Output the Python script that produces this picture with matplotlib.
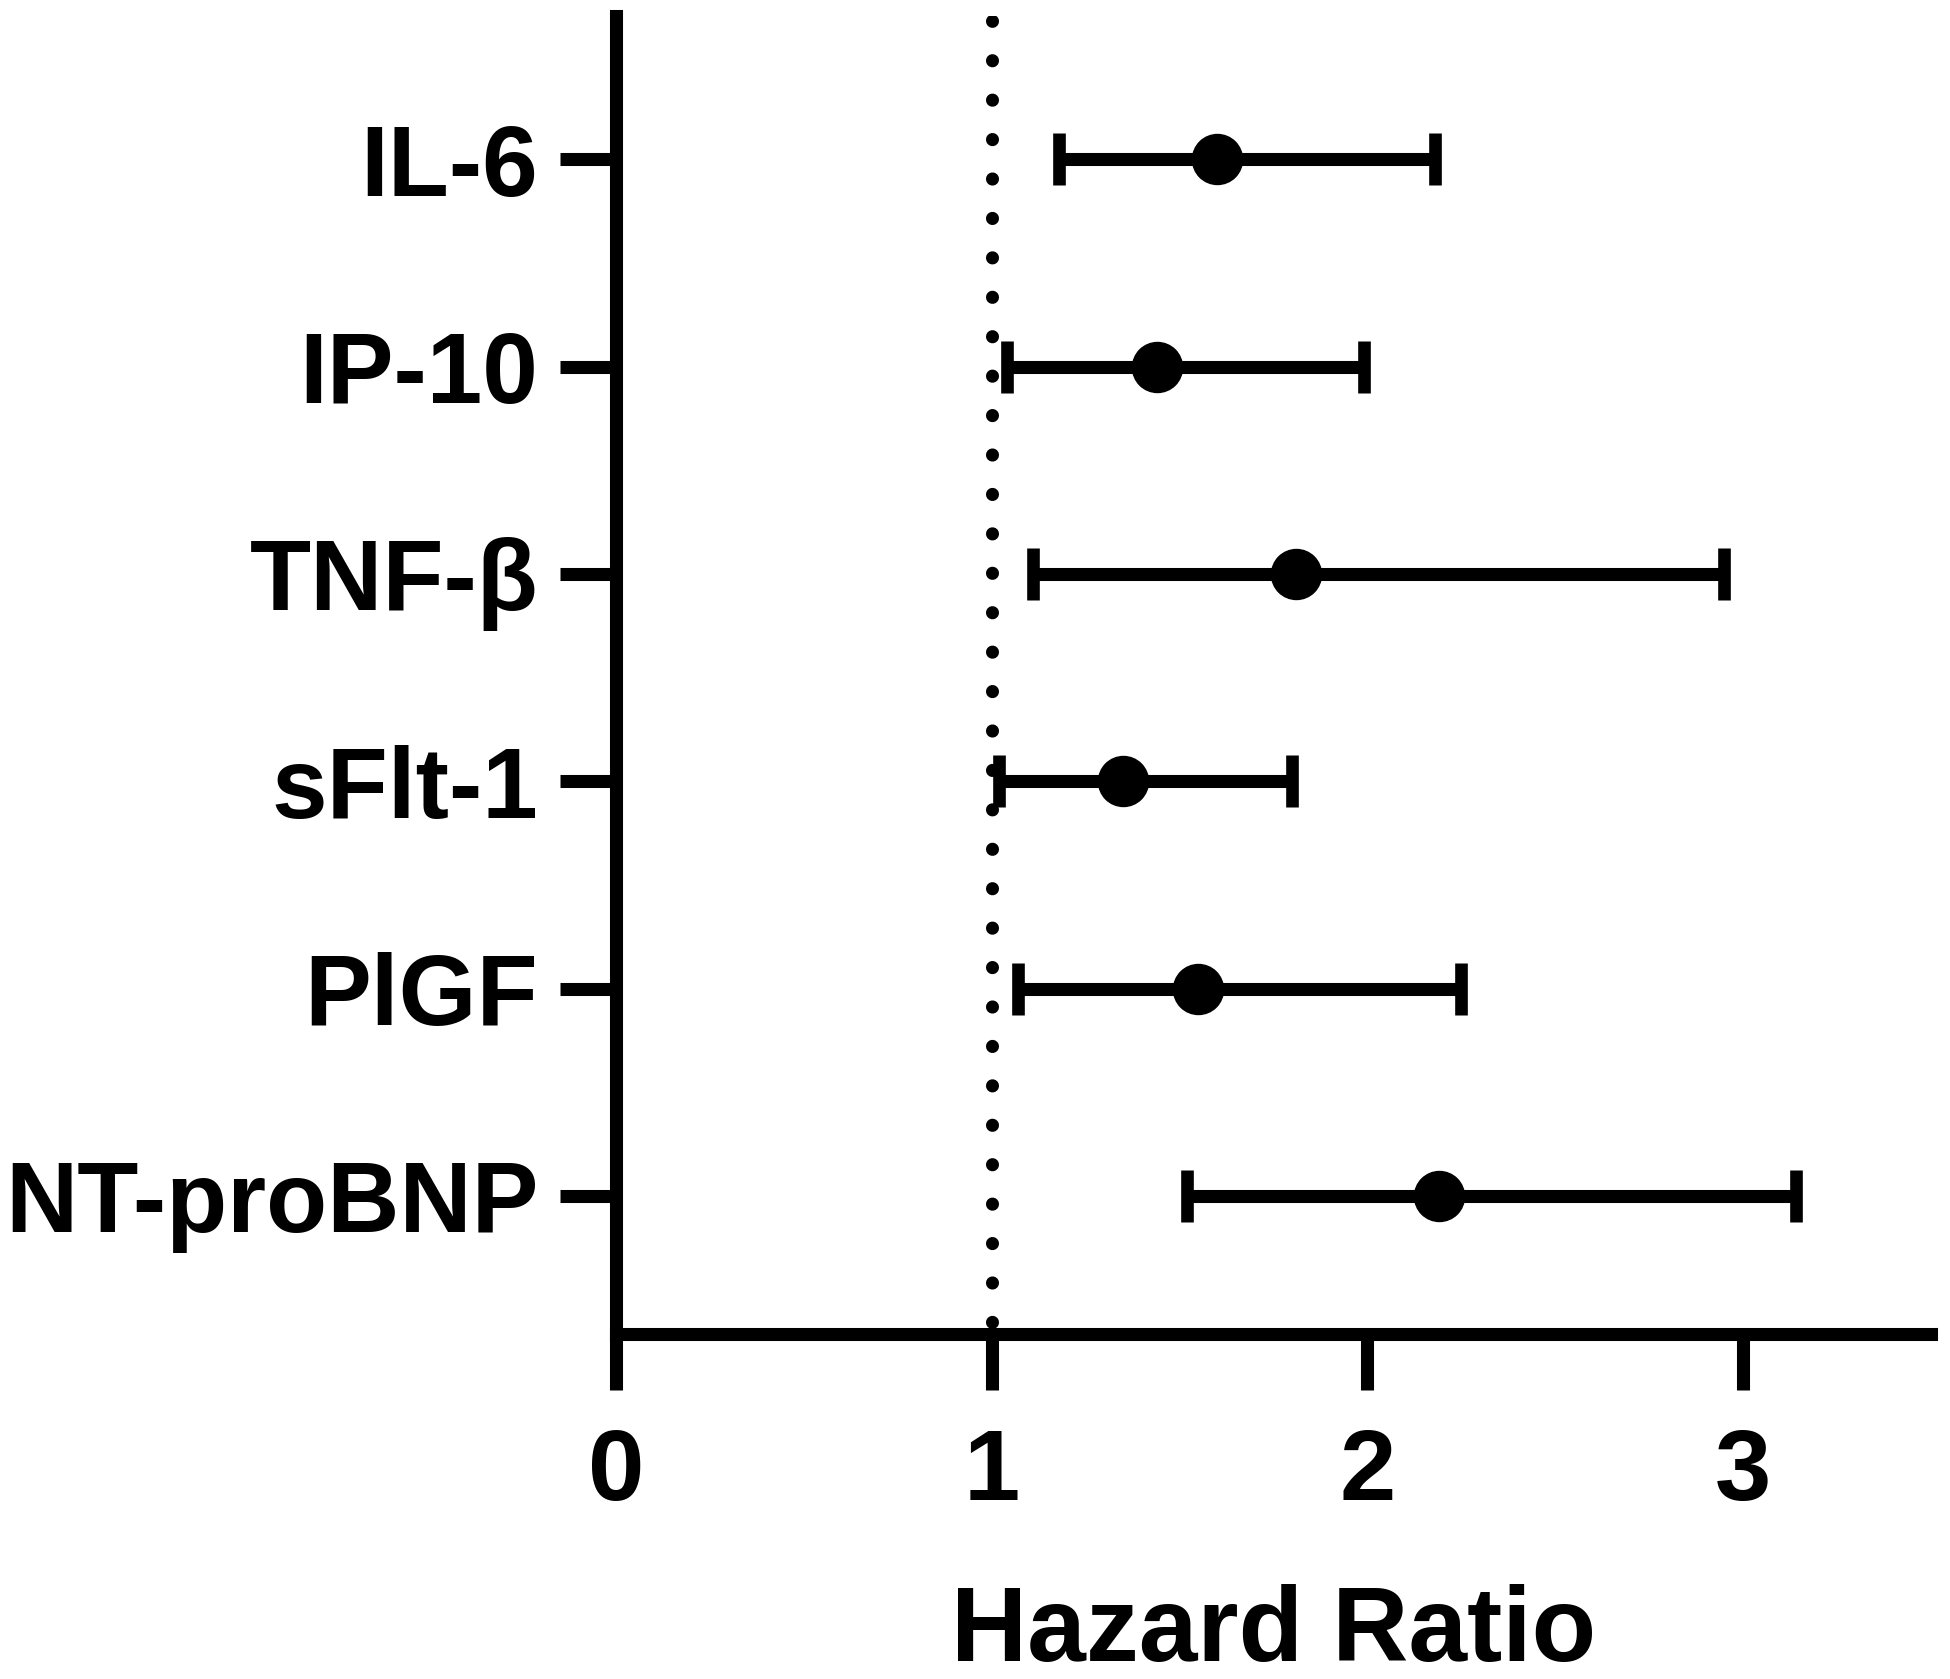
import matplotlib
matplotlib.use("Agg")
import matplotlib.pyplot as plt

plt.rcParams["font.family"] = ["Liberation Sans", "DejaVu Sans"]
plt.rcParams["font.weight"] = "bold"

# forest plot values (top to bottom)
markers = ["IL-6", "IP-10", "TNF-β", "sFlt-1", "PlGF", "NT-proBNP"]
hazard_ratio = [1.60, 1.44, 1.81, 1.35, 1.55, 2.19]
ci_low = [1.18, 1.04, 1.11, 1.02, 1.07, 1.52]
ci_high = [2.18, 1.99, 2.95, 1.80, 2.25, 3.14]
x_ticks = [0, 1, 2, 3]

LW = 9.4  # pt, all strokes are the same thickness in the original


def main():
    fig = plt.figure(figsize=(19.5, 16.79), dpi=100)
    ax = fig.add_axes([0.3159, 0.2055, 0.6744, 0.7850])

    ypos = list(range(len(markers)))
    xerr = [[h - lo for h, lo in zip(hazard_ratio, ci_low)],
            [hi - h for h, hi in zip(hazard_ratio, ci_high)]]

    # reference line at HR = 1 (round dots)
    ax.axvline(1, color="black", lw=LW, linestyle=(2.10, (0.01, 3.01)),
               dash_capstyle="round", zorder=1)

    ax.errorbar(hazard_ratio, ypos, xerr=xerr, fmt="o", color="black",
                ms=36, elinewidth=LW, capsize=19, capthick=9.1,
                zorder=3)

    ax.set_xlim(0, 3.5)
    ax.set_ylim(5.666, -0.691)
    ax.set_xticks(x_ticks)
    ax.set_yticks(ypos)
    ax.set_yticklabels(markers)

    for side in ("top", "right"):
        ax.spines[side].set_visible(False)
    for side in ("left", "bottom"):
        ax.spines[side].set_linewidth(LW)
    ax.tick_params(axis="x", length=40, width=LW, pad=27, labelsize=73)
    ax.tick_params(axis="y", length=40, width=LW, pad=16, labelsize=72)

    ax.set_xlabel("Hazard Ratio", fontsize=76, fontweight="bold", labelpad=45)

    fig.savefig("out.png", dpi=100)


main()
